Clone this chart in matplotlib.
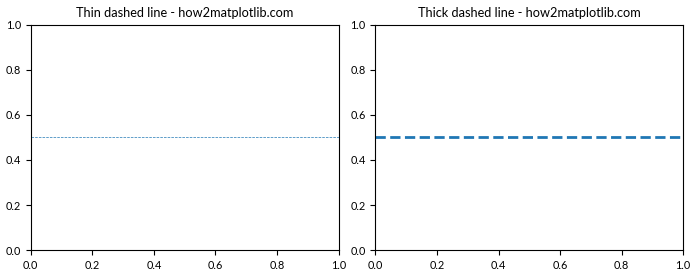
import matplotlib
matplotlib.use("Agg")
import matplotlib.pyplot as plt

plt.rcParams["font.family"] = ["Lato", "DejaVu Sans"]
plt.rcParams["font.size"] = 7.8
plt.rcParams["axes.titlesize"] = 9.2

# data
titles = ["Thin dashed line - how2matplotlib.com", "Thick dashed line - how2matplotlib.com"]
line_y = [0.5, 0.5]

# styles
widths = [0.5, 2]

fig, axes = plt.subplots(1, 2, figsize=(7, 2.8), dpi=100)
for ax, title, y, lw in zip(axes, titles, line_y, widths):
    ax.axhline(y, linestyle="--", linewidth=lw, color="C0")
    ax.set_xlim(0, 1)
    ax.set_ylim(0, 1)
    ax.set_title(title)
fig.subplots_adjust(left=0.044, right=0.976, top=0.911, bottom=0.107, wspace=0.12)
plt.savefig("out.png", dpi=100)
